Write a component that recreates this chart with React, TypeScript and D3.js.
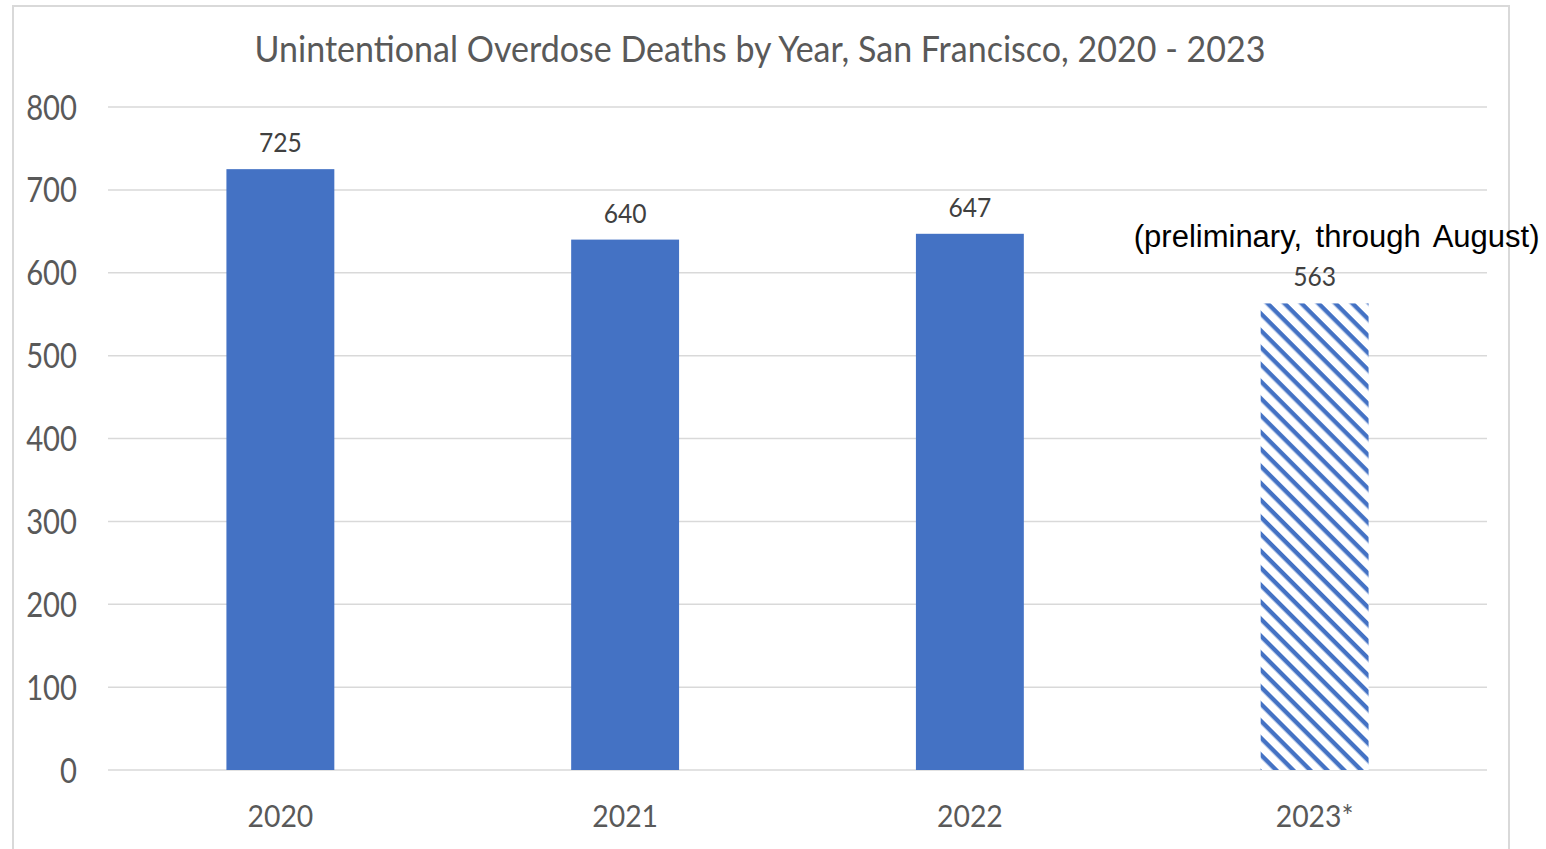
import React from "react";
import * as d3 from "d3";

const categories = ["2020", "2021", "2022", "2023*"];
const deaths = [725, 640, 647, 563];
const preliminary = [false, false, false, true];
const yTicks = [0, 100, 200, 300, 400, 500, 600, 700, 800];
const title = "Unintentional Overdose Deaths by Year, San Francisco, 2020 - 2023";
const note = "(preliminary, through August)";

const W = 1546;
const H = 849;
const plotLeft = 108;
const plotRight = 1487;
const plotTop = 107;
const plotBottom = 770;
const blue = "#4472c4";
const grey = "#595959";
const font = "Lato, 'Open Sans', sans-serif";

type TProps = {
  x: number;
  y: number;
  sx: number;
  size: number;
  anchor: "start" | "middle" | "end";
  fill: string;
  family?: string;
  wordSpacing?: number;
  children: React.ReactNode;
};

function T({ x, y, sx, size, anchor, fill, family, wordSpacing, children }: TProps) {
  return (
    <text
      transform={`translate(${x},${y}) scale(${sx},1)`}
      textAnchor={anchor}
      fontFamily={family ?? font}
      fontSize={size}
      fill={fill}
      style={wordSpacing ? { wordSpacing: `${wordSpacing}px` } : undefined}
    >
      {children}
    </text>
  );
}

export default function App() {
  const x = d3
    .scaleBand<string>()
    .domain(categories)
    .range([plotLeft, plotRight])
    .paddingInner(0.687)
    .paddingOuter(0.687 / 2);
  const y = d3.scaleLinear().domain([0, 800]).range([plotBottom, plotTop]);
  const lastCx = (x(categories[3]) ?? 0) + x.bandwidth() / 2;

  return (
    <svg
      width={W}
      height={H}
      style={{ position: "absolute", left: 0, top: 0, background: "#fff" }}
    >
      <defs>
        <pattern
          id="hatch"
          patternUnits="userSpaceOnUse"
          width={12}
          height={12}
          patternTransform="rotate(45)"
        >
          <rect width={12} height={12} fill="#fff" />
          <rect x={0} y={0} width={12} height={4.4} fill={blue} />
        </pattern>
      </defs>
      <rect x={0} y={0} width={W} height={H} fill="#fff" />
      <rect
        x={13}
        y={6}
        width={1496}
        height={900}
        fill="none"
        stroke="#d9d9d9"
        strokeWidth={2}
      />
      <T x={760} y={62} sx={0.92} size={37} anchor="middle" fill={grey}>
        {title}
      </T>
      {yTicks.map((t) => (
        <g key={t}>
          <line
            x1={plotLeft}
            x2={plotRight}
            y1={y(t)}
            y2={y(t)}
            stroke="#d9d9d9"
            strokeWidth={1.5}
          />
          <T x={77} y={y(t) + 12.5} sx={0.86} size={34} anchor="end" fill={grey}>
            {t}
          </T>
        </g>
      ))}
      {categories.map((c, i) => {
        const bx = x(c) ?? 0;
        const cx = bx + x.bandwidth() / 2;
        return (
          <g key={c}>
            <rect
              x={bx}
              y={y(deaths[i])}
              width={x.bandwidth()}
              height={plotBottom - y(deaths[i])}
              fill={preliminary[i] ? "url(#hatch)" : blue}
            />
            <T x={cx} y={y(deaths[i]) - 17} sx={0.93} size={26.5} anchor="middle" fill="#404040">
              {deaths[i]}
            </T>
            <T x={cx} y={827} sx={0.93} size={30.5} anchor="middle" fill={grey}>
              {c}
            </T>
          </g>
        );
      })}
      <T
        x={lastCx + 22}
        y={247}
        sx={1}
        size={31}
        anchor="middle"
        fill="#000"
        family="'Liberation Sans', Arial, sans-serif"
        wordSpacing={5}
      >
        {note}
      </T>
    </svg>
  );
}
